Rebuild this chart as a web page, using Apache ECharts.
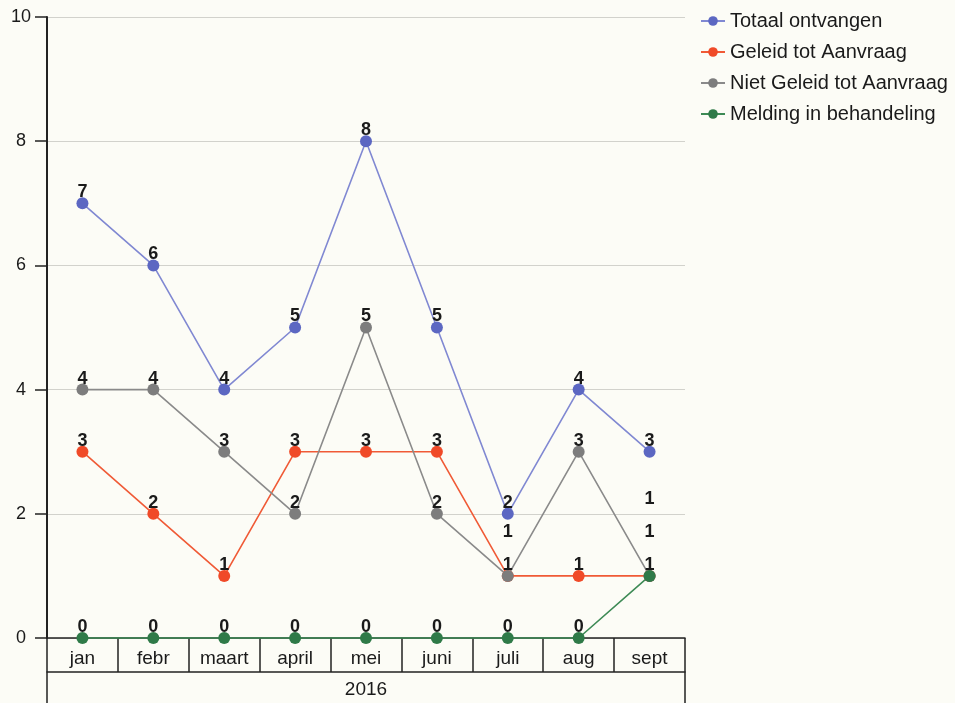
<!DOCTYPE html>
<html>
<head>
<meta charset="utf-8">
<script src="https://cdn.jsdelivr.net/npm/echarts@6/dist/echarts.min.js"></script>
<style>
    html, body { margin: 0; padding: 0; background: #fcfcf6; }
    #chart { width: 955px; height: 703px; }
</style>
</head>
<body>
<div id="chart"></div>
<script>
// maanden en jaar
var months = ['jan', 'febr', 'maart', 'april', 'mei', 'juni', 'juli', 'aug', 'sept'];
var years = ['2016'];

// waarden per reeks
var totaalOntvangen = [7, 6, 4, 5, 8, 5, 2, 4, 3];
var geleidTotAanvraag = [3, 2, 1, 3, 3, 3, 1, 1, 1];
var nietGeleid = [4, 4, 3, 2, 5, 2, 1, 3, 1];
var meldingInBehandeling = [0, 0, 0, 0, 0, 0, 0, 0, 1];

var seriesNames = ['Totaal ontvangen', 'Geleid tot Aanvraag', 'Niet Geleid tot Aanvraag', 'Melding in behandeling'];
var seriesValues = [totaalOntvangen, geleidTotAanvraag, nietGeleid, meldingInBehandeling];
var markerColors = ['#5c67c2', '#f04a28', '#7d7d7d', '#2f7a48'];
var lineColors = ['#8088d2', '#f05a36', '#8a8a8a', '#3d8a55'];

var textColor = '#1a1a1a';
var lineBlack = '#222';

// labels met dezelfde waarde op dezelfde maand schuiven omhoog
function labelShift(params) {
    var s = params.seriesIndex;
    var i = params.dataIndex;
    var same = 0;
    for (var k = 0; k < s; k++) {
        if (seriesValues[k][i] === seriesValues[s][i]) {
            same++;
        }
    }
    return {dy: -same * 33};
}

var series = seriesNames.map(function (name, idx) {
    return {
        name: name,
        type: 'line',
        data: seriesValues[idx],
        symbol: 'circle',
        symbolSize: 12,
        clip: false,
        itemStyle: {color: markerColors[idx]},
        lineStyle: {color: lineColors[idx], width: 1.6},
        label: {
            show: true,
            position: 'top',
            distance: -4,
            color: textColor,
            fontFamily: 'Liberation Sans Narrow, Liberation Sans, Arial',
            fontWeight: 'bold',
            fontSize: 18
        },
        labelLayout: labelShift,
        emphasis: {disabled: true}
    };
});

var chart = echarts.init(document.getElementById('chart'));
var option = {
    backgroundColor: '#fcfcf6',
    animation: false,
    textStyle: {fontFamily: 'Liberation Sans, Arial'},
    grid: {
        left: 47,
        right: 270,
        top: 17,
        bottom: 65
    },
    legend: {
        orient: 'vertical',
        left: 695,
        top: 6,
        itemWidth: 24,
        itemHeight: 12,
        itemGap: 11,
        textStyle: {fontSize: 20, color: textColor},
        data: seriesNames
    },
    xAxis: [{
        type: 'category',
        data: months,
        boundaryGap: true,
        axisLine: {lineStyle: {color: lineBlack, width: 1.5}},
        axisTick: {show: true, length: 34, interval: 0, lineStyle: {color: lineBlack, width: 1.5}},
        axisLabel: {margin: 11, fontSize: 19, color: textColor, interval: 0}
    }, {
        type: 'category',
        data: years,
        position: 'bottom',
        offset: 34,
        boundaryGap: true,
        axisLine: {lineStyle: {color: lineBlack, width: 1.5}},
        axisTick: {show: true, length: 34, interval: 0, lineStyle: {color: lineBlack, width: 1.5}},
        axisLabel: {margin: 8, fontSize: 19, color: textColor}
    }],
    yAxis: {
        type: 'value',
        min: 0,
        max: 10,
        interval: 2,
        axisLine: {show: true, lineStyle: {color: lineBlack, width: 2}},
        axisTick: {show: true, length: 12, lineStyle: {color: lineBlack, width: 1.5}},
        axisLabel: {margin: 26, align: 'center', fontSize: 18, color: textColor},
        splitLine: {lineStyle: {color: '#d2d2cc', width: 1}}
    },
    series: series
};
chart.setOption(option);
</script>
</body>
</html>
